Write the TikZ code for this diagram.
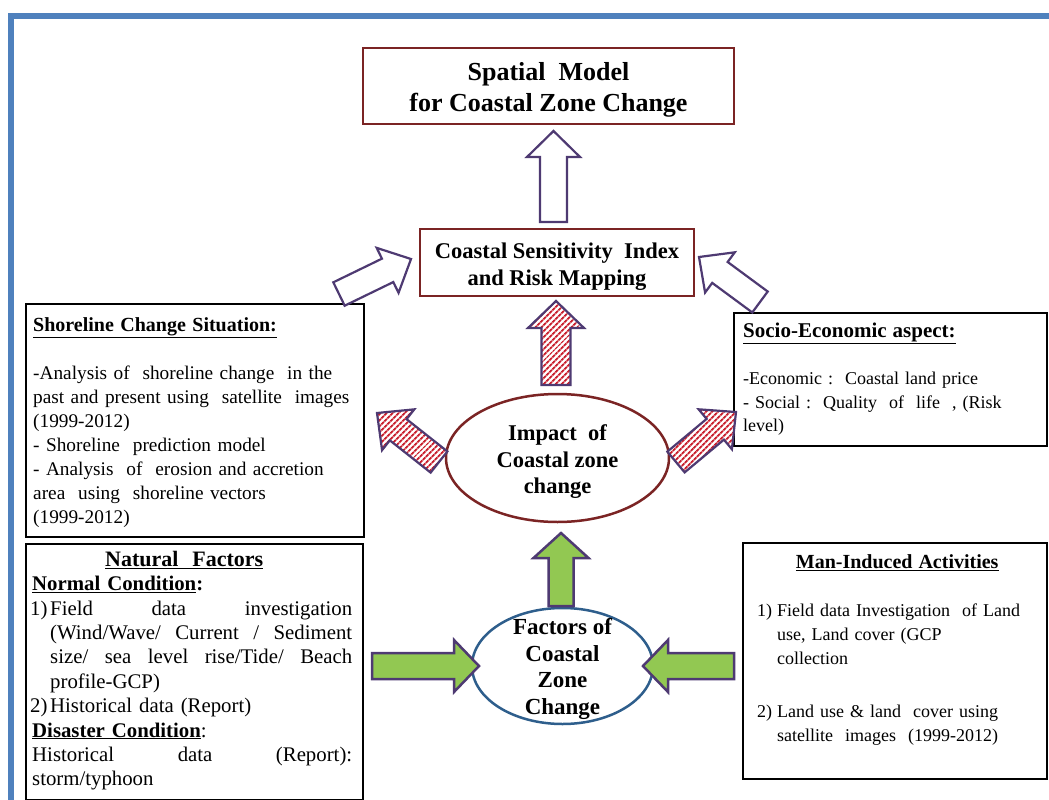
\documentclass[tikz,border=0pt]{standalone}
\usepackage{fontspec}
\setmainfont{Liberation Serif}
\usetikzlibrary{calc,patterns.meta,shapes.geometric}

\definecolor{frameblue}{HTML}{4F81BD}
\definecolor{boxred}{HTML}{7B2424}
\definecolor{ellblue}{HTML}{2E5E8C}
\definecolor{arrowpurple}{HTML}{4E3A72}
\definecolor{leafgreen}{HTML}{92C852}
\definecolor{stripered}{HTML}{C9202E}

% block arrow: #1 style, #2 tail, #3 tip, #4 half shaft width, #5 half head width, #6 head length
\newcommand\blockarrow[6]{%
  \coordinate (ba-neck) at ($(#3)!#6!(#2)$);
  \draw[#1] ($(#2)!#4!90:(#3)$) -- ($(ba-neck)!#4!-90:(#2)$)
    -- ($(ba-neck)!#5!-90:(#2)$) -- (#3) -- ($(ba-neck)!#5!90:(#2)$)
    -- ($(ba-neck)!#4!90:(#2)$) -- ($(#2)!#4!-90:(#3)$) -- cycle;}

% a line of text justified to a given width (font's stretchable spaces)
\newcommand\spreadline[2]{\makebox[#1][s]{\spaceskip=0pt\xspaceskip=0pt\relax #2}}

\begin{document}
\begin{tikzpicture}[x=1pt,y=-1pt,
  panel/.style={draw=black, line width=1.5pt, rectangle, inner sep=0pt, anchor=north west},
  titlebox/.style={draw=boxred, line width=2.5pt, rectangle, inner sep=0pt},
  boldtext/.style={inner sep=0pt, align=center},
  paneltext/.style={anchor=north west, inner sep=0pt, align=left},
  hollow/.style={draw=arrowpurple, line width=2.2pt, fill=white, line join=miter},
  hatched/.style={draw=arrowpurple, line width=2.2pt, line join=miter, preaction={fill=white},
    pattern={Lines[angle=45,distance=4pt,line width=2pt]}, pattern color=stripered},
  greenarrow/.style={draw=arrowpurple, line width=2.5pt, fill=leafgreen, line join=miter}]
\useasboundingbox (0,0) rectangle (1049,800);
\fill[white] (0,0) rectangle (1049,800);

% page frame
\fill[frameblue] (8,13) rectangle (1049,19);
\fill[frameblue] (8,13) rectangle (14,800);

% title boxes
\node[titlebox, minimum width=371pt, minimum height=76pt] (model) at (548.5,86) {};
\node[boldtext, font=\bfseries\fontsize{26}{31}\selectfont] (modeltext) at (548.5,90)
  {Spatial\ \ Model\\for Coastal Zone Change};
\node[titlebox, minimum width=274pt, minimum height=67pt] (csi) at (557,262.5) {};
\node[boldtext, font=\bfseries\fontsize{22.5}{27}\selectfont] (csitext) at (557,266.5)
  {Coastal Sensitivity\ \ Index\\and Risk Mapping};

% ellipses
\node[ellipse, draw=boxred, line width=2.5pt, minimum width=223pt, minimum height=128pt,
  inner sep=0pt] (impact) at (557.5,458) {};
\node[boldtext, font=\bfseries\fontsize{22.5}{26.5}\selectfont] (impacttext) at (557.5,462)
  {Impact\ \ of\\Coastal zone\\change};
\node[ellipse, draw=ellblue, line width=2.5pt, minimum width=181pt, minimum height=116pt,
  inner sep=0pt] (factors) at (562.5,666) {};

% information panels
\node[panel, minimum width=338pt, minimum height=233pt] (shore) at (25,303) {};
\node[panel, minimum width=313pt, minimum height=133pt] (socio) at (733,312) {};
\node[panel, minimum width=337pt, minimum height=256pt] (natural) at (25,543) {};
\node[panel, minimum width=304pt, minimum height=236pt] (man) at (742,542) {};

\node[paneltext, text width=322pt, font=\fontsize{19.3}{24}\selectfont] (shoretext) at (33,314) {%
  \strut{\fontsize{20}{24}\selectfont\underline{\textbf{Shoreline Change Situation:}}}\\
  \strut\\
  -Analysis of\ \ shoreline change\ \ in the\\
  past and present using\ \ satellite\ \ images\\
  (1999-2012)\\
  - Shoreline\ \ prediction model\\
  - Analysis\ \ of\ \ erosion and accretion\\
  area\ \ using\ \ shoreline vectors\\
  (1999-2012)};

\node[paneltext, text width=295pt, font=\fontsize{18}{23.5}\selectfont] (sociotext) at (743,321) {%
  \strut{\fontsize{21}{23.5}\selectfont\underline{\textbf{Socio-Economic aspect:}}}\\
  \strut\\
  -Economic :\ \ Coastal land price\\
  - Social :\ \ Quality\ \ of\ \ life\ \ , (Risk\\
  level)};

\node[paneltext, text width=322pt, font=\fontsize{20.8}{24.4}\selectfont] (naturaltext) at (30,549) {%
  \strut\makebox[322pt]{\hspace*{-14pt}{\fontsize{22}{24.4}\selectfont\underline{\textbf{Natural\ \ Factors}}}}\\
  \hspace*{2pt}\underline{\textbf{Normal Condition}}\textbf{:}\\
  \makebox[20pt][l]{1)}\spreadline{302pt}{Field data investigation}\\
  \hspace*{20pt}\spreadline{302pt}{(Wind/Wave/ Current / Sediment}\\
  \hspace*{20pt}\spreadline{302pt}{size/ sea level rise/Tide/ Beach}\\
  \hspace*{20pt}profile-GCP)\\
  \makebox[20pt][l]{2)}Historical data (Report)\\
  \hspace*{2pt}\underline{\textbf{Disaster Condition}}:\\
  \hspace*{2pt}\spreadline{320pt}{Historical data (Report):}\\
  \hspace*{2pt}storm/typhoon};

\node[paneltext, text width=285pt, font=\fontsize{18}{24.2}\selectfont] (mantext) at (757,551) {%
  \strut\makebox[280pt]{{\fontsize{20}{24.2}\selectfont\underline{\textbf{Man-Induced Activities}}}}\\
  \strut\\
  \makebox[20pt][l]{1)}Field data Investigation\ \ of Land\\
  \hspace*{20pt}use, Land cover (GCP\\
  \hspace*{20pt}collection\\[28pt]
  \makebox[20pt][l]{2)}Land use \& land\ \ cover using\\
  \hspace*{20pt}satellite\ \ images\ \ (1999-2012)};

% arrow end points
\coordinate (upA-tail) at (553.5,222);  \coordinate (upA-tip) at (553.5,131);
\coordinate (lA-tail) at (339,294);     \coordinate (lA-tip) at (411,259);
\coordinate (rA-tail) at (760,302);     \coordinate (rA-tip) at (699,257);
\coordinate (upR-tail) at (556,385);    \coordinate (upR-tip) at (556,301);
\coordinate (lR-tail) at (439,462);     \coordinate (lR-tip) at (377,413);
\coordinate (rR-tail) at (676,462);     \coordinate (rR-tip) at (736,412);
\coordinate (upG-tail) at (561,606);    \coordinate (upG-tip) at (561,533);
\coordinate (lG-tail) at (372,666);     \coordinate (lG-tip) at (479,666);
\coordinate (rG-tail) at (734,666);     \coordinate (rG-tip) at (643,666);

% hollow arrows toward the model and the index
\blockarrow{hollow}{upA-tail}{upA-tip}{13.5pt}{26.5pt}{26pt}
\blockarrow{hollow}{lA-tail}{lA-tip}{13pt}{25pt}{26pt}
\blockarrow{hollow}{rA-tail}{rA-tip}{13pt}{25pt}{26pt}

% hatched arrows out of the impact ellipse
\blockarrow{hatched}{upR-tail}{upR-tip}{14.5pt}{28pt}{27pt}
\blockarrow{hatched}{lR-tail}{lR-tip}{13.5pt}{26pt}{27pt}
\blockarrow{hatched}{rR-tail}{rR-tip}{13.5pt}{26pt}{27pt}

% green arrows around the factors ellipse
\blockarrow{greenarrow}{upG-tail}{upG-tip}{12.5pt}{27.5pt}{25pt}
\blockarrow{greenarrow}{lG-tail}{lG-tip}{13pt}{26pt}{25pt}
\blockarrow{greenarrow}{rG-tail}{rG-tip}{13pt}{26pt}{25pt}

% text of the factors ellipse sits above its arrows
\node[boldtext, font=\bfseries\fontsize{23}{26.7}\selectfont] (factorstext) at (562.5,669)
  {Factors of\\Coastal\\Zone\\Change};
\end{tikzpicture}
\end{document}
